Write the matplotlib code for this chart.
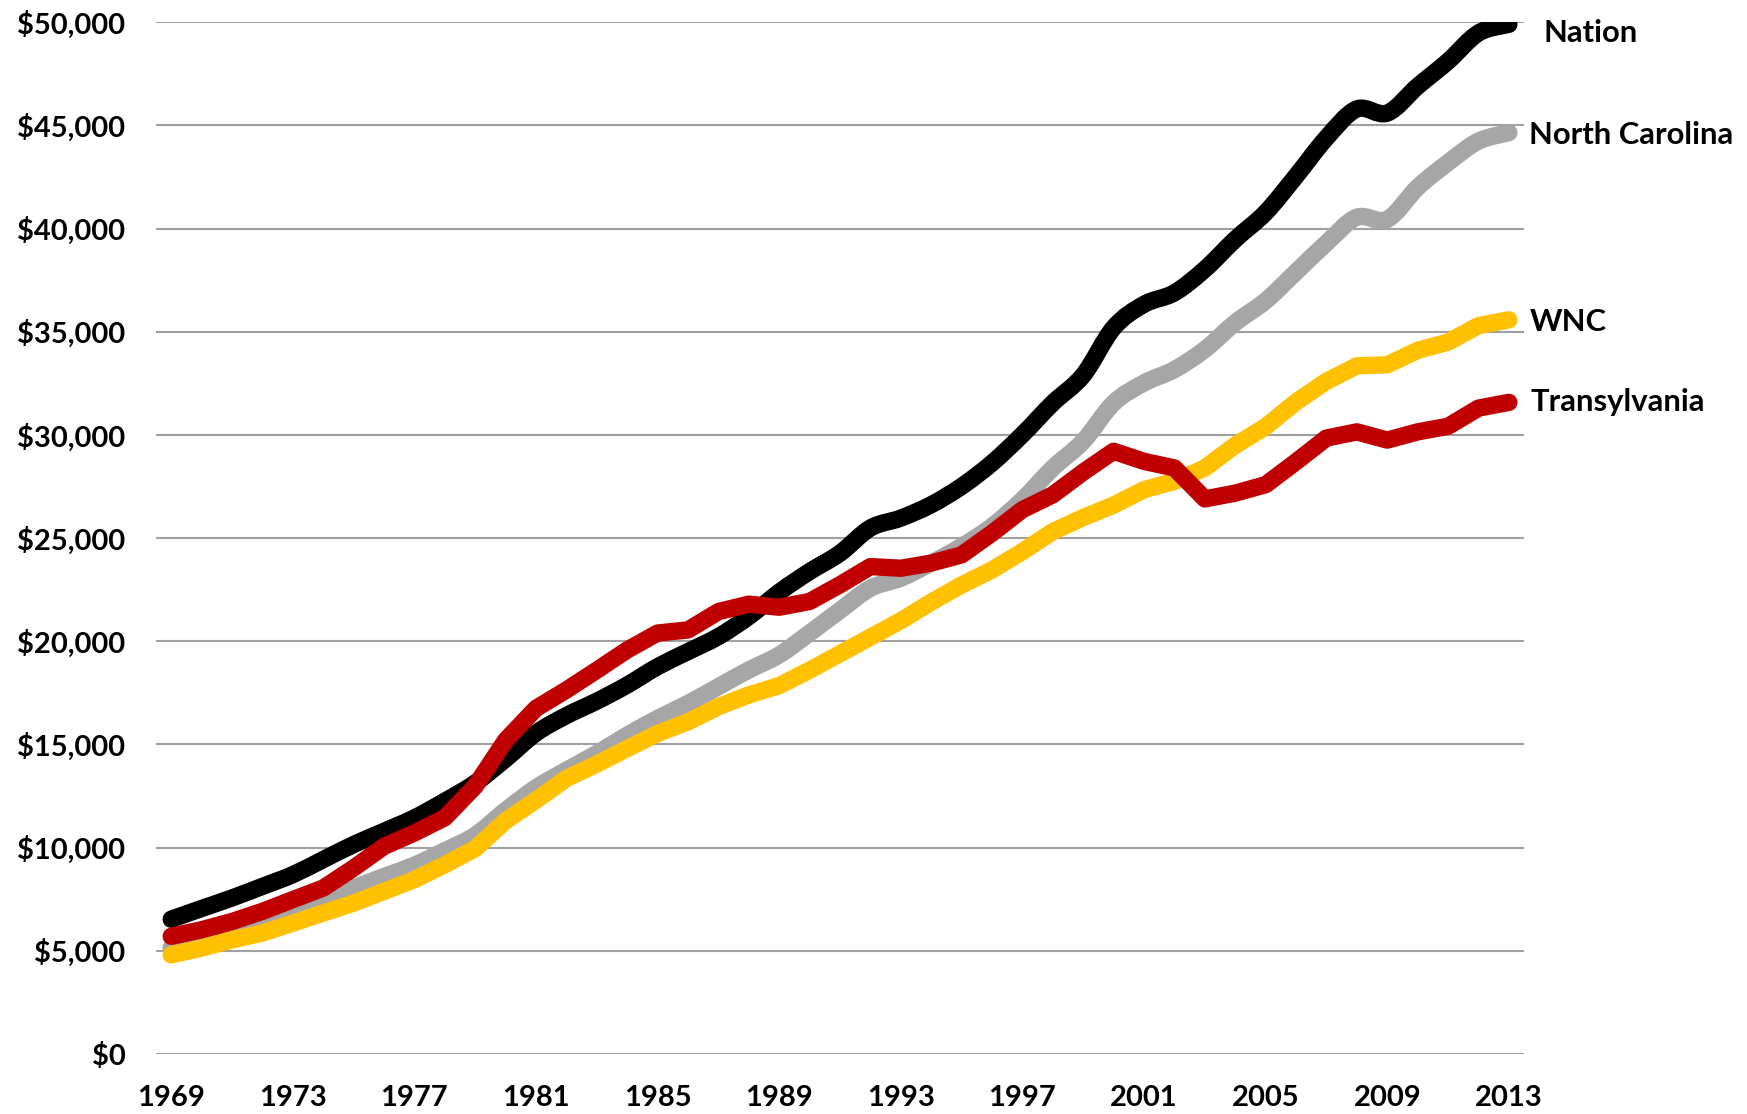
import matplotlib
matplotlib.use("Agg")
import matplotlib.pyplot as plt
from matplotlib.ticker import FuncFormatter
from matplotlib.path import Path
from matplotlib.patches import PathPatch

years = list(range(1969, 2014))

nation = [6530, 7050, 7560, 8120, 8690, 9420, 10150, 10790, 11440, 12250,
          13130, 14300, 15550, 16400, 17100, 17880, 18770, 19500, 20230, 21200,
          22380, 23380, 24270, 25490, 25970, 26620, 27510, 28640, 30020, 31550,
          32900, 35200, 36330, 36890, 38030, 39480, 40780, 42550, 44400, 45800,
          45600, 46900, 48110, 49480, 49900]

north_carolina = [5150, 5550, 5950, 6450, 7000, 7550, 8050, 8600, 9150, 9850,
                  10600, 11800, 12900, 13750, 14560, 15450, 16260, 16990, 17800, 18610,
                  19340, 20400, 21500, 22570, 23060, 23790, 24600, 25570, 26860, 28400,
                  29700, 31550, 32520, 33170, 34140, 35440, 36500, 37900, 39300, 40550,
                  40450, 42000, 43200, 44240, 44650]

wnc = [4800, 5130, 5530, 5860, 6340, 6830, 7310, 7880, 8450, 9170,
       9950, 11300, 12300, 13350, 14050, 14800, 15530, 16100, 16830, 17400,
       17850, 18600, 19400, 20200, 21000, 21900, 22730, 23460, 24350, 25320,
       26000, 26600, 27350, 27750, 28400, 29500, 30400, 31600, 32600, 33350,
       33400, 34100, 34500, 35300, 35580]

transylvania = [5700, 6020, 6420, 6910, 7480, 8040, 9010, 10060, 10710, 11450,
                12980, 15200, 16750, 17640, 18600, 19580, 20400, 20550, 21440, 21800,
                21650, 21930, 22740, 23620, 23540, 23790, 24190, 25240, 26380, 27100,
                28200, 29210, 28720, 28400, 26900, 27180, 27590, 28700, 29850, 30150,
                29750, 30150, 30420, 31300, 31580]

series_names = ["Nation", "North Carolina", "WNC", "Transylvania"]
series_values = [nation, north_carolina, wnc, transylvania]
series_colors = ["#000000", "#A6A6A6", "#FFC000", "#C00000"]
series_smooth = [True, True, False, False]

x_tick_years = list(range(1969, 2014, 4))
y_ticks = list(range(0, 50001, 5000))

plt.rcParams['font.family'] = ['Lato', 'DejaVu Sans']

LW = 12.5


def smooth_path(xs, ys):
    """Excel-style smoothed line: cubic Bezier segments through the data points."""
    n = len(xs)
    verts = [(xs[0], ys[0])]
    codes = [Path.MOVETO]
    for i in range(n - 1):
        x0, y0 = (xs[i - 1], ys[i - 1]) if i > 0 else (xs[i], ys[i])
        x1, y1 = xs[i], ys[i]
        x2, y2 = xs[i + 1], ys[i + 1]
        x3, y3 = (xs[i + 2], ys[i + 2]) if i + 2 < n else (xs[i + 1], ys[i + 1])
        c1 = (x1 + (x2 - x0) / 6.0, y1 + (y2 - y0) / 6.0)
        c2 = (x2 - (x3 - x1) / 6.0, y2 - (y3 - y1) / 6.0)
        verts += [c1, c2, (x2, y2)]
        codes += [Path.CURVE4, Path.CURVE4, Path.CURVE4]
    return Path(verts, codes)


fig = plt.figure(figsize=(17.47, 11.14), dpi=100)
ax = fig.add_axes([0.0893, 0.0539, 0.8724 - 0.0893, 0.98 - 0.0539])

for name, vals, col, sm in zip(series_names, series_values, series_colors, series_smooth):
    if sm:
        patch = PathPatch(smooth_path(years, vals), facecolor='none', edgecolor=col,
                          linewidth=LW, capstyle='round', joinstyle='round', zorder=3)
        ax.add_patch(patch)
    else:
        ax.plot(years, vals, color=col, linewidth=LW, solid_capstyle='round',
                solid_joinstyle='round', zorder=3)

ax.set_xlim(1968.5, 2013.5)
ax.set_ylim(0, 50000)
ax.set_yticks(y_ticks)
ax.set_xticks(x_tick_years)
ax.yaxis.set_major_formatter(FuncFormatter(lambda v, p: "${:,.0f}".format(v)))
ax.grid(axis='y', color='#A0A0A0', linewidth=1.5, zorder=1)
ax.grid(axis='x', visible=False)
for s in ax.spines.values():
    s.set_visible(False)
ax.tick_params(axis='both', length=0, labelsize=21)
ax.tick_params(axis='x', pad=22)
ax.tick_params(axis='y', pad=22)
for lab in ax.get_xticklabels() + ax.get_yticklabels():
    lab.set_fontweight('bold')

# End labels
label_offsets = {"Nation": (0.65, -400), "North Carolina": (0.15, -100),
                 "WNC": (0.2, -100), "Transylvania": (0.2, 0)}
for name, vals in zip(series_names, series_values):
    dx, dy = label_offsets[name]
    ax.text(years[-1] + 0.5 + dx, vals[-1] + dy, name, ha='left', va='center',
            fontsize=22.3, fontweight='bold', clip_on=False)

fig.savefig("out.png", dpi=100)
